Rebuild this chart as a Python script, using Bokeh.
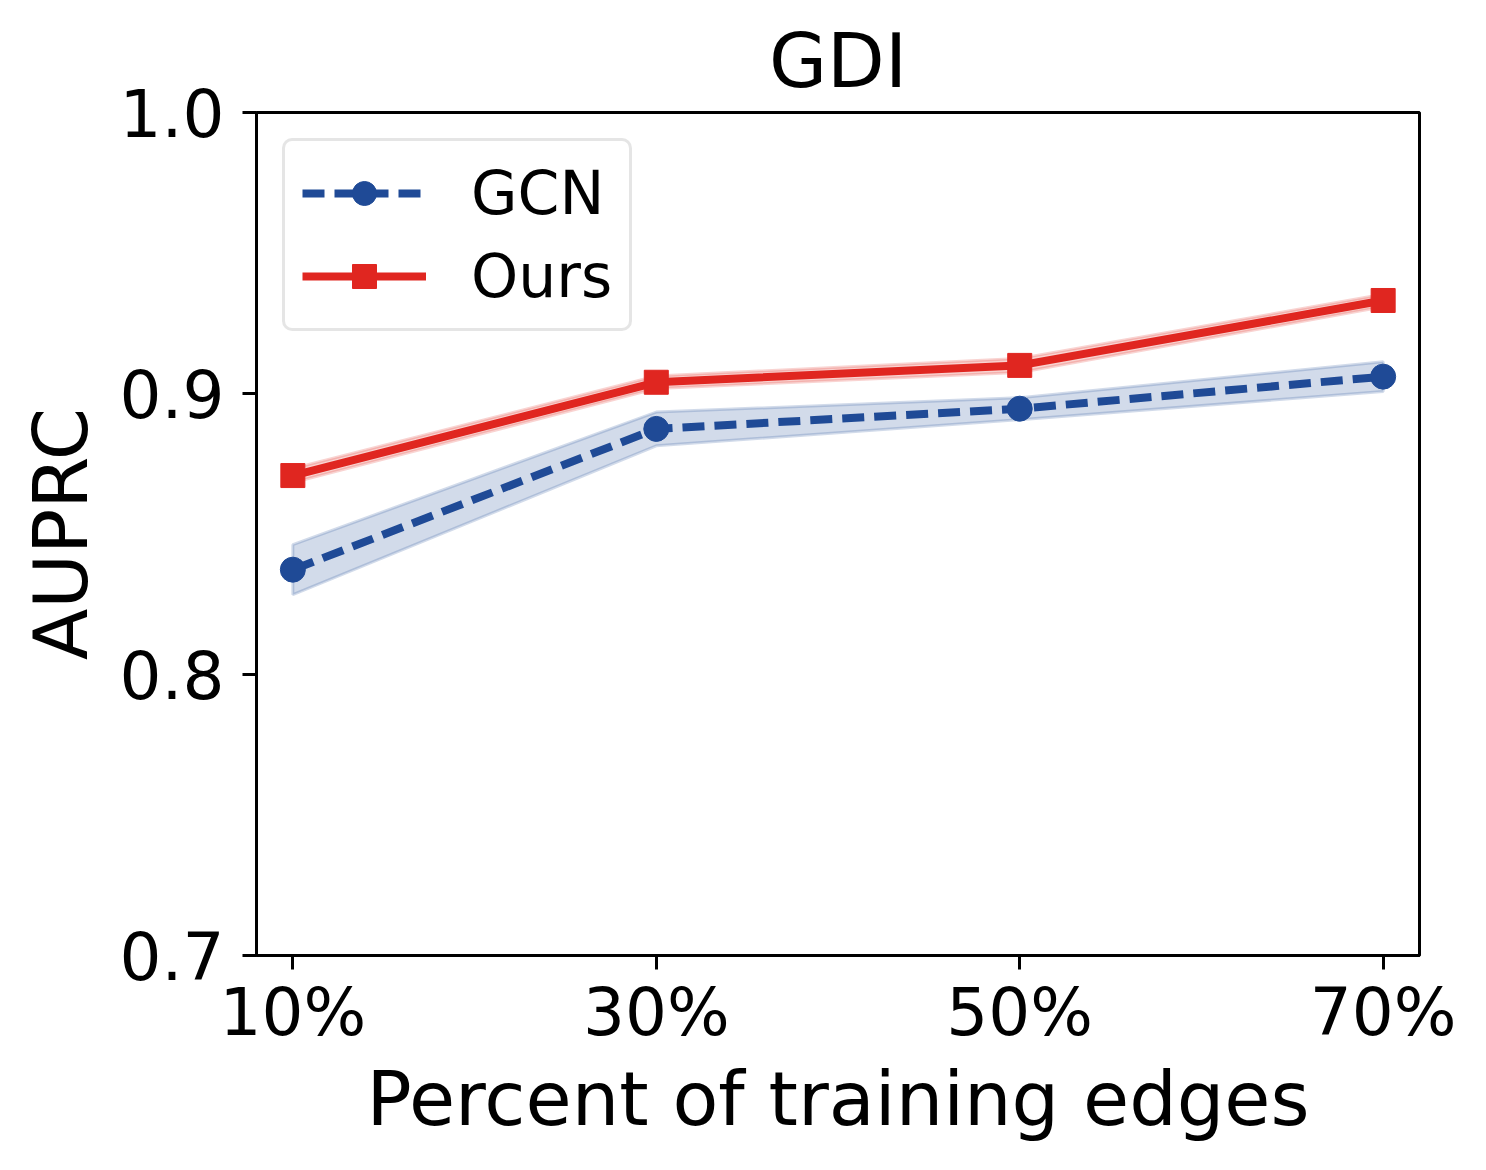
from bokeh.plotting import figure
from bokeh.models import FixedTicker, Range1d, Legend, LegendItem, ColumnDataSource
from bokeh.embed import file_html
from bokeh.resources import INLINE

# data
percents = [10, 30, 50, 70]
tick_labels = ["10%", "30%", "50%", "70%"]
gcn_mean = [0.8373, 0.8874, 0.8946, 0.9060]
gcn_std = [0.0089, 0.0060, 0.0039, 0.0053]
ours_mean = [0.8708, 0.9040, 0.9100, 0.9331]
ours_std = [0.0025, 0.0022, 0.0025, 0.0022]

BLUE = "#1f4a96"
RED = "#e02620"
FONT = "DejaVu Sans"

p = figure(width=1486, height=1170, output_backend="svg", toolbar_location=None,
           x_range=Range1d(8.0, 72.0), y_range=Range1d(0.7, 1.0),
           min_border_left=256, min_border_right=67, min_border_top=112, min_border_bottom=215)

p.grid.visible = False
p.outline_line_color = "black"
p.outline_line_width = 3
p.background_fill_color = "white"
p.border_fill_color = "white"

p.title.text = "GDI"
p.title.text_font = FONT
p.title.text_font_size = "75px"
p.title.text_font_style = "normal"
p.title.text_color = "black"
p.title.align = "center"
p.title.standoff = 15

for ax in (p.xaxis[0], p.yaxis[0]):
    ax.axis_line_width = 3
    ax.major_tick_line_width = 3
    ax.major_tick_out = 14
    ax.major_tick_in = 0
    ax.minor_tick_line_color = None
    ax.major_label_text_font = FONT
    ax.major_label_text_font_size = "66px"
    ax.major_label_text_color = "black"
    ax.axis_label_text_font = FONT
    ax.axis_label_text_font_size = "75px"
    ax.axis_label_text_font_style = "normal"
    ax.axis_label_text_color = "black"

p.xaxis.ticker = FixedTicker(ticks=percents)
p.xaxis.major_label_overrides = {v: t for v, t in zip(percents, tick_labels)}
p.xaxis.axis_label = "Percent of training edges"
p.xaxis.major_label_standoff = 4
p.xaxis.axis_label_standoff = 1

p.yaxis.ticker = FixedTicker(ticks=[0.7, 0.8, 0.9, 1.0])
p.yaxis.major_label_overrides = {0.7: "0.7", 0.8: "0.8", 0.9: "0.9", 1.0: "1.0"}
p.yaxis.axis_label = "AUPRC"
p.yaxis.major_label_standoff = 18
p.yaxis.axis_label_standoff = 12

# bands
def band(mean, std, color):
    xs = percents + percents[::-1]
    ys = [m + s for m, s in zip(mean, std)] + [m - s for m, s in zip(mean, std)][::-1]
    p.patch(xs, ys, fill_color=color, fill_alpha=0.2, line_color=color, line_alpha=0.2, line_width=3)

band(gcn_mean, gcn_std, BLUE)
band(ours_mean, ours_std, RED)

src_g = ColumnDataSource(dict(x=percents, y=gcn_mean))
src_o = ColumnDataSource(dict(x=percents, y=ours_mean))

lg = p.line("x", "y", source=src_g, line_color=BLUE, line_width=8, line_dash="22 10")
sg = p.scatter("x", "y", source=src_g, marker="circle", size=25, fill_color=BLUE, line_color=BLUE)
lo = p.line("x", "y", source=src_o, line_color=RED, line_width=8)
so = p.scatter("x", "y", source=src_o, marker="square", size=24, fill_color=RED, line_color=RED)

legend = Legend(items=[LegendItem(label="GCN", renderers=[lg, sg]),
                       LegendItem(label="Ours", renderers=[lo, so])],
                location="top_left")
legend.margin = 26
legend.padding = 17
legend.spacing = 13
legend.glyph_width = 124
legend.glyph_height = 60
legend.label_height = 60
legend.label_standoff = 45
legend.label_text_font = FONT
legend.label_text_font_size = "60px"
legend.label_text_color = "black"
legend.border_line_color = "#cccccc"
legend.border_line_width = 3
legend.background_fill_alpha = 0.8
try:
    legend.border_radius = 10
except Exception:
    pass
p.add_layout(legend, "center")

open("out.html", "w").write(file_html(p, INLINE))
